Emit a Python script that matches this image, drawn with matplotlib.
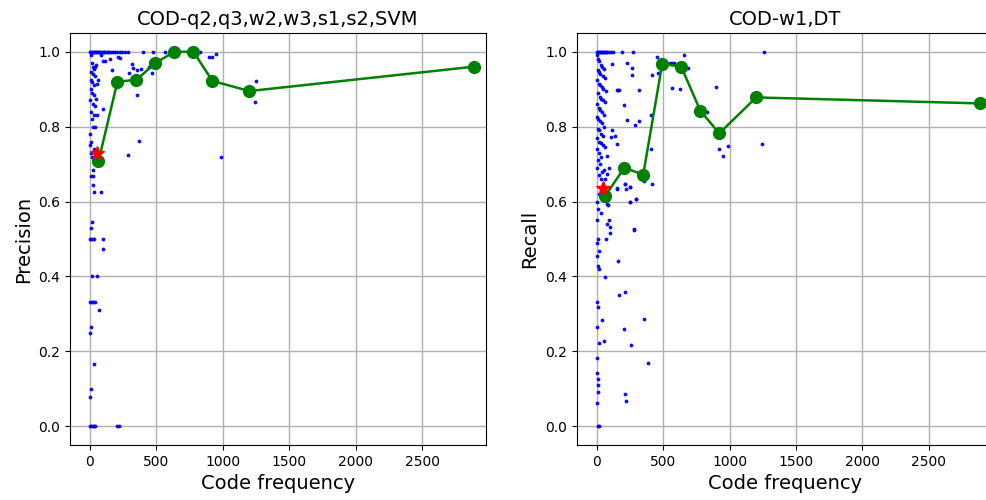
import matplotlib
matplotlib.use('Agg')
import matplotlib.pyplot as plt

# binned averages (green line)
bin_x = [64, 207, 350, 493, 636, 779, 922, 1200, 2888]
prec_bin = [0.707, 0.920, 0.925, 0.970, 1.000, 1.000, 0.922, 0.895, 0.960]
rec_bin = [0.615, 0.690, 0.672, 0.968, 0.960, 0.843, 0.782, 0.878, 0.862]

# overall averages (red star)
prec_star = (50, 0.730)
rec_star = (50, 0.635)

# per-code precision
prec_x = [0, 8, 15, 22, 30, 38, 45, 52, 60, 68, 76, 85, 95, 105, 115, 125, 135, 145,
          160, 175, 190, 205, 225, 245, 265, 285, 400, 475, 565, 600, 827,
          80, 113, 150, 213, 225, 318, 326, 381, 358, 163, 293, 464, 446, 100, 897, 922, 948,
          1253, 1243, 983, 371, 288, 356, 95,
          5, 12, 20, 30, 38, 45, 10, 22, 35, 8, 18, 28, 50, 60, 5, 15, 32, 48, 3, 25, 40,
          8, 30, 12, 50, 20, 38, 0, 10, 0, 28, 5, 15, 55, 25, 5, 25, 25, 33, 83,
          13, 10, 0, 10, 20, 30, 95, 95, 13, 50, 0, 12, 25, 38, 68, 8, 0, 33, 8, 0,
          0, 10, 20, 30, 38, 205, 220]
prec_y = [1.0] * 31 + \
         [0.990, 0.976, 0.980, 0.985, 0.983, 0.968, 0.957, 0.954, 0.952, 0.950, 0.943, 0.943,
          0.960, 0.974, 0.985, 0.987, 0.994, 0.921, 0.867, 0.718, 0.761, 0.723, 0.885, 0.848,
          0.990, 0.970, 0.960, 0.955, 0.960, 0.965, 0.945, 0.940, 0.935, 0.925, 0.920, 0.910,
          0.915, 0.925, 0.900, 0.890, 0.885, 0.875, 0.870, 0.860, 0.855, 0.840, 0.830, 0.820,
          0.830, 0.800, 0.800, 0.780, 0.760, 0.750, 0.740, 0.730, 0.720, 0.700, 0.685, 0.667,
          0.667, 0.645, 0.625, 0.625,
          0.545, 0.530, 0.500, 0.500, 0.500, 0.500, 0.500, 0.472, 0.400, 0.400, 0.333, 0.333,
          0.333, 0.333, 0.310, 0.266, 0.250, 0.166, 0.100, 0.077,
          0.0, 0.0, 0.0, 0.0, 0.0, 0.0, 0.0]

# per-code recall
rec_x = [0, 8, 16, 24, 32, 40, 48, 56, 64, 72, 80, 95, 110, 120, 188, 276, 1258,
         451, 569, 555, 583, 657, 689, 419, 464, 569, 627, 895, 827, 920, 953, 985, 1246,
         406, 406, 414, 356, 318, 321, 288, 231, 205, 163, 155, 170, 268, 263, 226, 113,
         150, 138, 105, 118, 80, 93, 75, 211, 250, 156, 248, 293, 85, 93, 280,
         5, 12, 20, 30, 40, 55, 8, 18, 28, 45, 65, 3, 15, 25, 38, 50, 70, 10, 22, 35, 48,
         60, 5, 15, 28, 42, 58, 0, 12, 25, 38, 52, 8, 20, 33, 45, 2, 15, 30, 48, 62,
         5, 18, 35, 10, 25, 0, 40, 15, 30, 55, 63, 211, 248, 223, 156, 293, 248, 80,
         5, 20, 10, 35, 5, 80, 98, 98, 281, 68, 10, 5, 160, 15, 0, 65, 10, 20, 211, 171,
         5, 43, 359, 10, 0, 208, 261, 53, 15, 383, 5, 5, 10, 8, 211, 223, 12, 0, 8, 20]
rec_y = [1.0] * 17 + \
        [0.985, 0.970, 0.970, 0.970, 0.992, 0.957, 0.937, 0.943, 0.903, 0.900, 0.905, 0.839,
         0.741, 0.721, 0.749, 0.753, 0.832, 0.739, 0.648, 0.654, 0.899, 0.814, 0.805, 0.817,
         0.859, 0.899, 0.899, 0.899, 0.938, 0.957, 0.970, 0.968, 0.754, 0.776, 0.773, 0.790,
         0.721, 0.690, 0.674, 0.648, 0.640, 0.636, 0.598, 0.607, 0.592, 0.550, 0.527,
         0.990, 0.980, 0.975, 0.965, 0.960, 0.955, 0.950, 0.945, 0.940, 0.935, 0.930, 0.925,
         0.915, 0.910, 0.905, 0.900, 0.895, 0.890, 0.880, 0.875, 0.870, 0.865, 0.860, 0.850,
         0.845, 0.840, 0.830, 0.825, 0.820, 0.815, 0.810, 0.800, 0.795, 0.790, 0.780, 0.775,
         0.770, 0.760, 0.755, 0.750, 0.745, 0.740, 0.730, 0.720, 0.710, 0.700, 0.690, 0.680,
         0.670, 0.660, 0.685, 0.660, 0.648, 0.639, 0.634, 0.634, 0.607, 0.598, 0.594,
         0.600, 0.620, 0.580, 0.570, 0.552, 0.541, 0.532, 0.515, 0.524, 0.499, 0.499, 0.490,
         0.441, 0.467, 0.454, 0.399, 0.427, 0.420, 0.358, 0.350,
         0.333, 0.285, 0.287, 0.319, 0.266, 0.261, 0.218, 0.227, 0.221, 0.169, 0.181, 0.143,
         0.125, 0.110, 0.085, 0.068, 0.091, 0.063, 0.0, 0.0]

fig = plt.figure(figsize=(9.86, 5), dpi=100)
# axes boxes in figure fractions (right panel runs slightly past the edge, as in the source)
ax1 = fig.add_axes([0.071, 0.11, 0.422, 0.824])
ax2 = fig.add_axes([0.585, 0.11, 0.422, 0.824])

panels = [
    (ax1, prec_x, prec_y, prec_bin, prec_star, 'COD-q2,q3,w2,w3,s1,s2,SVM', 'Precision'),
    (ax2, rec_x, rec_y, rec_bin, rec_star, 'COD-w1,DT', 'Recall'),
]
for ax, xs, ys, yb, star, title, ylab in panels:
    ax.plot(xs, ys, 'b.', markersize=3.5, alpha=0.9)
    ax.plot(bin_x, yb, color='green', marker='o', markersize=8.5, linewidth=1.8)
    ax.plot(star[0], star[1], 'r*', markersize=10)
    ax.set_title(title, fontsize=14)
    ax.set_xlabel('Code frequency', fontsize=14)
    ax.set_ylabel(ylab, fontsize=14)
    ax.set_xlim(-150, 2982)
    ax.set_ylim(-0.05, 1.05)
    ax.set_xticks([0, 500, 1000, 1500, 2000, 2500])
    ax.set_yticks([0.0, 0.2, 0.4, 0.6, 0.8, 1.0])
    ax.tick_params(labelsize=10)
    ax.grid(True, color='#b0b0b0', linewidth=1)
    ax.set_axisbelow(True)

plt.savefig('out.png', dpi=100)
